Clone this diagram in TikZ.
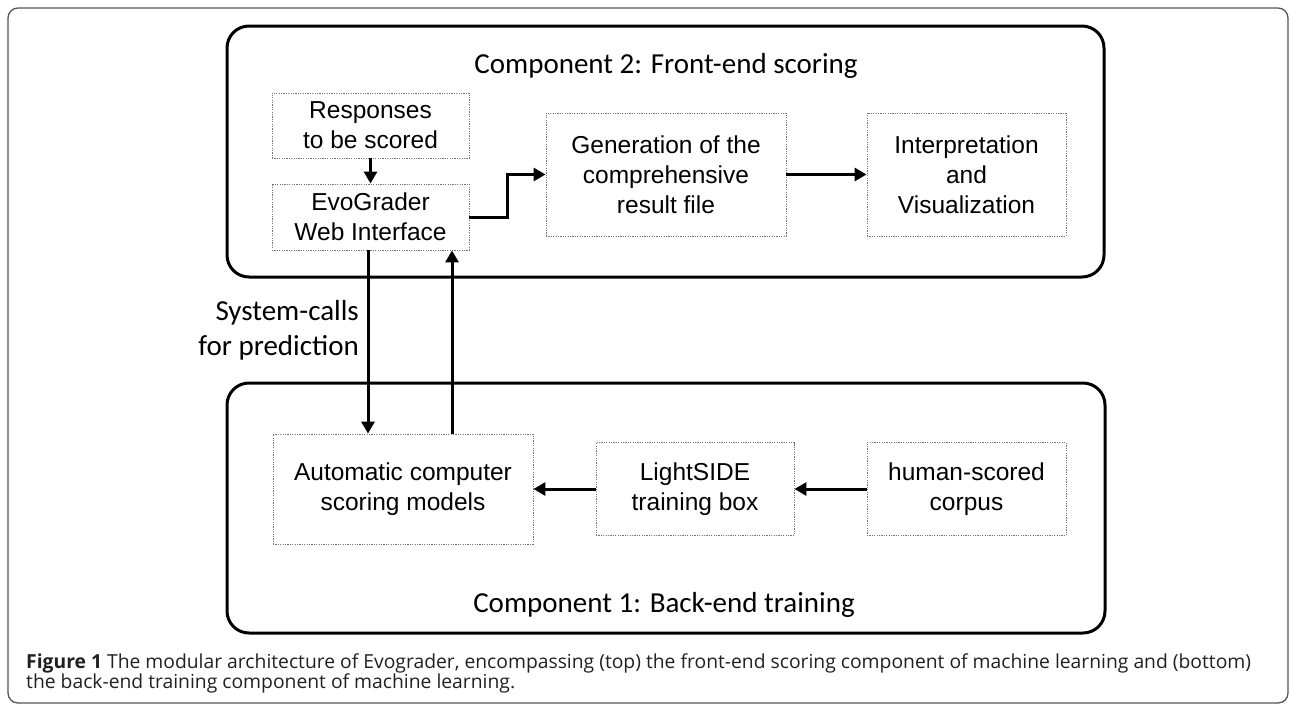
\documentclass[tikz,border=0pt]{standalone}
\usepackage{fontspec}
\setmainfont{Liberation Sans}
\newfontfamily\calfont{Carlito}
\newfontfamily\capfont{Open Sans}
\usetikzlibrary{arrows.meta}
\definecolor{capink}{HTML}{231F20}
\definecolor{framegray}{HTML}{555555}
\tikzset{
  dbox/.style={draw=black!55, line width=0.9pt, dash pattern=on 1.2pt off 1.2pt,
    inner sep=0pt, align=center, font=\fontsize{24.5}{30}\selectfont},
  comp/.style={draw=black, line width=3pt, rounded corners=22pt},
  arr/.style={line width=3pt, -{Triangle[length=12pt,width=13pt]}},
  ctitle/.style={font=\calfont\fontsize{29}{35}\selectfont, inner sep=0pt},
  captext/.style={font=\capfont\fontsize{19.3}{20}\selectfont, text=capink, inner sep=0pt}
}
\begin{document}
\begin{tikzpicture}[x=1pt, y=-1pt]
\useasboundingbox (0,0) rectangle (1290,704);
\begin{scope}
\clip (0,0) rectangle (1290,704);
\draw[framegray, line width=1.3pt, rounded corners=10pt] (8,8) rectangle (1288,703);
\end{scope}
% component boxes
\draw[comp] (227,26) rectangle (1104,277);
\draw[comp] (227,383) rectangle (1105,633);
\node[ctitle, anchor=base] (t2) at (666,73) {Component 2: Front-end scoring};
\node[ctitle, anchor=base] (t1) at (664,612) {Component 1: Back-end training};
% top nodes
\node[dbox, minimum width=197pt, minimum height=65pt] (resp) at (370.5,125.5) {Responses\\to be scored};
\node[dbox, minimum width=197pt, minimum height=66pt] (evo) at (370.5,217) {EvoGrader\\Web Interface};
\node[dbox, minimum width=240pt, minimum height=123pt] (gen) at (666,174.5) {Generation of the\\comprehensive\\result file};
\node[dbox, minimum width=199pt, minimum height=123pt] (interp) at (966.5,174.5) {Interpretation\\and\\Visualization};
% bottom nodes
\node[dbox, minimum width=260pt, minimum height=110pt] (auto) at (403,489) {Automatic computer\\scoring models};
\node[dbox, minimum width=198pt, minimum height=93pt] (light) at (695,489) {LightSIDE\\training box};
\node[dbox, minimum width=199pt, minimum height=93pt] (human) at (966.5,489) {human-scored\\corpus};
% connectors
\draw[arr] (resp) -- (evo);
\draw[arr] (evo.east) -- ++(38,0) |- (gen.west);
\draw[arr] (gen) -- (interp);
\draw[arr] (human) -- (light);
\draw[arr] (light) -- (auto);
\coordinate (dnx) at (368,0);
\coordinate (upx) at (452,0);
\draw[arr] (evo.south -| dnx) -- (auto.north -| dnx);
\draw[arr] (auto.north -| upx) -- (evo.south -| upx);
\node[ctitle, anchor=base east] (sys1) at (359,320) {System-calls};
\node[ctitle, anchor=base east] (sys2) at (359,355) {for prediction};
% caption
\node[captext, anchor=base west] (cap1) at (26,668) {\textbf{Figure 1} The modular architecture of Evograder, encompassing (top) the front-end scoring component of machine learning and (bottom)};
\node[captext, anchor=base west] (cap2) at (26,688) {the back-end training component of machine learning.};
\end{tikzpicture}
\end{document}
